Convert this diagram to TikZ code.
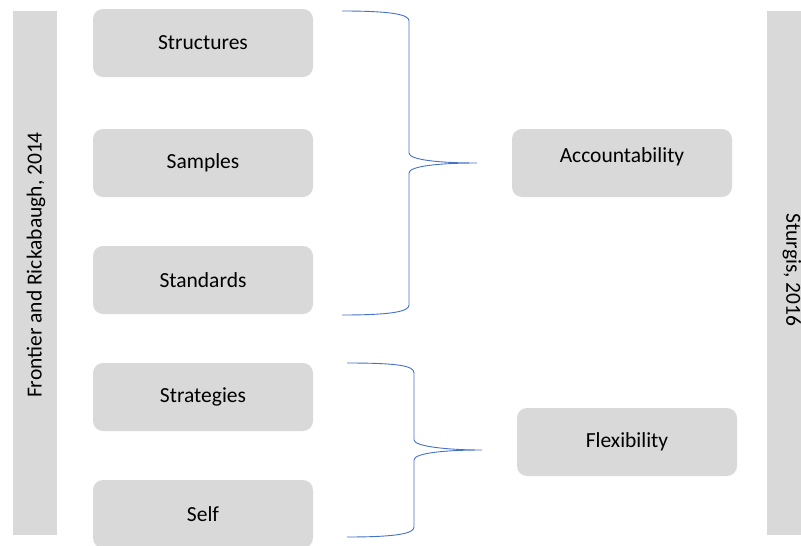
\documentclass[tikz,border=0pt]{standalone}
\usepackage{fontspec}
\setmainfont{Carlito}
\definecolor{boxgray}{HTML}{D9D9D9}
\definecolor{braceblue}{HTML}{4472C4}
\tikzset{
  item/.style={fill=boxgray, rounded corners=10pt, minimum width=220pt, minimum height=68pt, inner sep=0pt, font=\fontsize{21.5}{24}\selectfont},
  bar/.style={fill=boxgray, inner sep=0pt},
  lbl/.style={font=\fontsize{21.5}{24}\selectfont, inner sep=0pt},
  bracel/.style={draw=braceblue, line width=0.9pt}
}
\begin{document}
\begin{tikzpicture}[x=1pt,y=-1pt]
\useasboundingbox (0,0) rectangle (801,546);
% side bars
\node[bar, minimum width=44pt, minimum height=524pt] (lbar) at (35,273) {};
\node[bar, minimum width=40pt, minimum height=524pt] (rbar) at (787,273) {};
\node[lbl, rotate=90] (ltext) at (36,265) {Frontier and Rickabaugh, 2014};
\node[lbl, rotate=-90] (rtext) at (792,270) {Sturgis, 2016};
% left items
\node[item] (structures) at (203,43) {Structures};
\node[item] (samples) at (203,163) {Samples};
\node[item] (standards) at (203,280) {Standards};
\node[item] (strategies) at (203,397) {Strategies};
\node[item] (self) at (203,514) {Self};
% right items
\node[item] (acc) at (622,163) {};
\node[lbl] (acctext) at (622,157) {Accountability};
\node[item] (flex) at (627,442) {Flexibility};
% braces
\coordinate (b1t) at (342,11);
\coordinate (b1tip) at (477,163);
\coordinate (b1b) at (342,315);
\draw[bracel] (b1t) .. controls (395,11) and (409,15) .. (409,21) -- (409,153)
  .. controls (409,160) and (440,163) .. (b1tip)
  .. controls (440,163) and (409,166) .. (409,173) -- (409,305)
  .. controls (409,311) and (395,315) .. (b1b);
\coordinate (b2t) at (347,363);
\coordinate (b2tip) at (482,450);
\coordinate (b2b) at (347,537);
\draw[bracel] (b2t) .. controls (400,363) and (414,366) .. (414,373) -- (414,440)
  .. controls (414,446) and (445,450) .. (b2tip)
  .. controls (445,450) and (414,453) .. (414,460) -- (414,527)
  .. controls (414,533) and (400,537) .. (b2b);
\end{tikzpicture}
\end{document}
